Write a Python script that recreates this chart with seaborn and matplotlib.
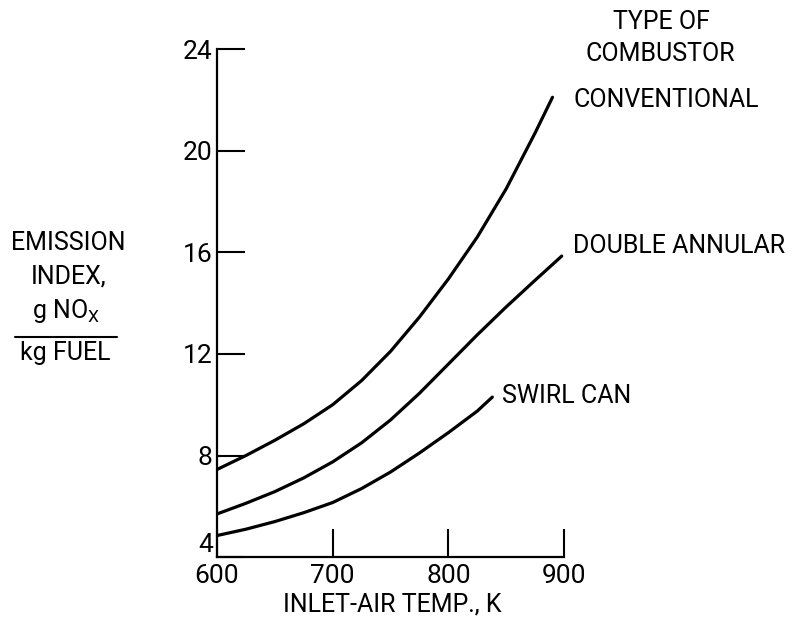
import pandas as pd
import matplotlib
matplotlib.use("Agg")
import matplotlib.pyplot as plt
import seaborn as sns

# values (inlet temperature K -> emission index)
conv_temp = [600, 625, 650, 675, 700, 725, 750, 775, 800, 825, 850, 875, 890]
conv_ei = [7.45, 8.0, 8.6, 9.25, 10.0, 10.95, 12.1, 13.45, 14.95, 16.6, 18.5, 20.7, 22.1]

dbl_temp = [600, 625, 650, 675, 700, 725, 750, 775, 800, 825, 850, 875, 898]
dbl_ei = [5.7, 6.12, 6.58, 7.12, 7.75, 8.5, 9.4, 10.45, 11.6, 12.75, 13.85, 14.9, 15.85]

swirl_temp = [600, 625, 650, 675, 700, 725, 750, 775, 800, 825, 838]
swirl_ei = [4.85, 5.1, 5.4, 5.75, 6.15, 6.7, 7.35, 8.1, 8.9, 9.75, 10.3]

x_ticks = [600, 700, 800, 900]
y_ticks = [4, 8, 12, 16, 20, 24]

df = pd.concat([
    pd.DataFrame({"temp": conv_temp, "ei": conv_ei, "type": "CONVENTIONAL"}),
    pd.DataFrame({"temp": dbl_temp, "ei": dbl_ei, "type": "DOUBLE ANNULAR"}),
    pd.DataFrame({"temp": swirl_temp, "ei": swirl_ei, "type": "SWIRL CAN"}),
])

sns.set_style("white")
plt.rcParams["font.family"] = ["Roboto", "DejaVu Sans"]
plt.rcParams["text.color"] = "black"

fig = plt.figure(figsize=(7.95, 6.26), dpi=100)
ax = fig.add_axes([0.273, 0.110, 0.4365, 0.8117])

for name, grp in df.groupby("type"):
    sns.lineplot(data=grp, x="temp", y="ei", ax=ax, color="black",
                 linewidth=2.3, legend=False, sort=True,
                 solid_joinstyle="round", solid_capstyle="round")

ax.set_xlim(600, 900)
ax.set_ylim(4, 24)
ax.set_xticks(x_ticks)
ax.set_yticks(y_ticks)
ax.set_xlabel("")
ax.set_ylabel("")
for s in ["top", "right"]:
    ax.spines[s].set_visible(False)
for s in ["left", "bottom"]:
    ax.spines[s].set_linewidth(1.6)
    ax.spines[s].set_color("black")
ax.tick_params(direction="in", length=20, width=1.5, colors="black",
               labelsize=19, bottom=True, left=True)
ax.tick_params(axis="x", pad=5)
ax.tick_params(axis="y", pad=3)
# the "4" sits on top of the x axis
ax.get_yticklabels()[0].set_verticalalignment("bottom")

# curve labels
fs = 18
fig.text(0.721, 0.840, "CONVENTIONAL", fontsize=fs, va="center", ha="left")
fig.text(0.721, 0.607, "DOUBLE ANNULAR", fontsize=fs, va="center", ha="left")
fig.text(0.632, 0.367, "SWIRL CAN", fontsize=fs, va="center", ha="left")
fig.text(0.832, 0.965, "TYPE OF", fontsize=fs, ha="center", va="center")
fig.text(0.830, 0.914, "COMBUSTOR", fontsize=fs, ha="center", va="center")

# y label block
fig.text(0.086, 0.612, "EMISSION", fontsize=fs, ha="center", va="center")
fig.text(0.086, 0.558, "INDEX,", fontsize=fs, ha="center", va="center")
fig.text(0.083, 0.503, r"g NO$_\mathregular{X}$", fontsize=fs, ha="center", va="center")
fig.add_artist(plt.Line2D([0.019, 0.147], [0.462, 0.462], color="black",
                          linewidth=1.5, transform=fig.transFigure))
fig.text(0.082, 0.436, "kg FUEL", fontsize=fs, ha="center", va="center")

fig.text(0.493, 0.034, "INLET-AIR TEMP., K", fontsize=fs, ha="center",
         va="center")

fig.savefig("out.png", dpi=100, facecolor="white")
